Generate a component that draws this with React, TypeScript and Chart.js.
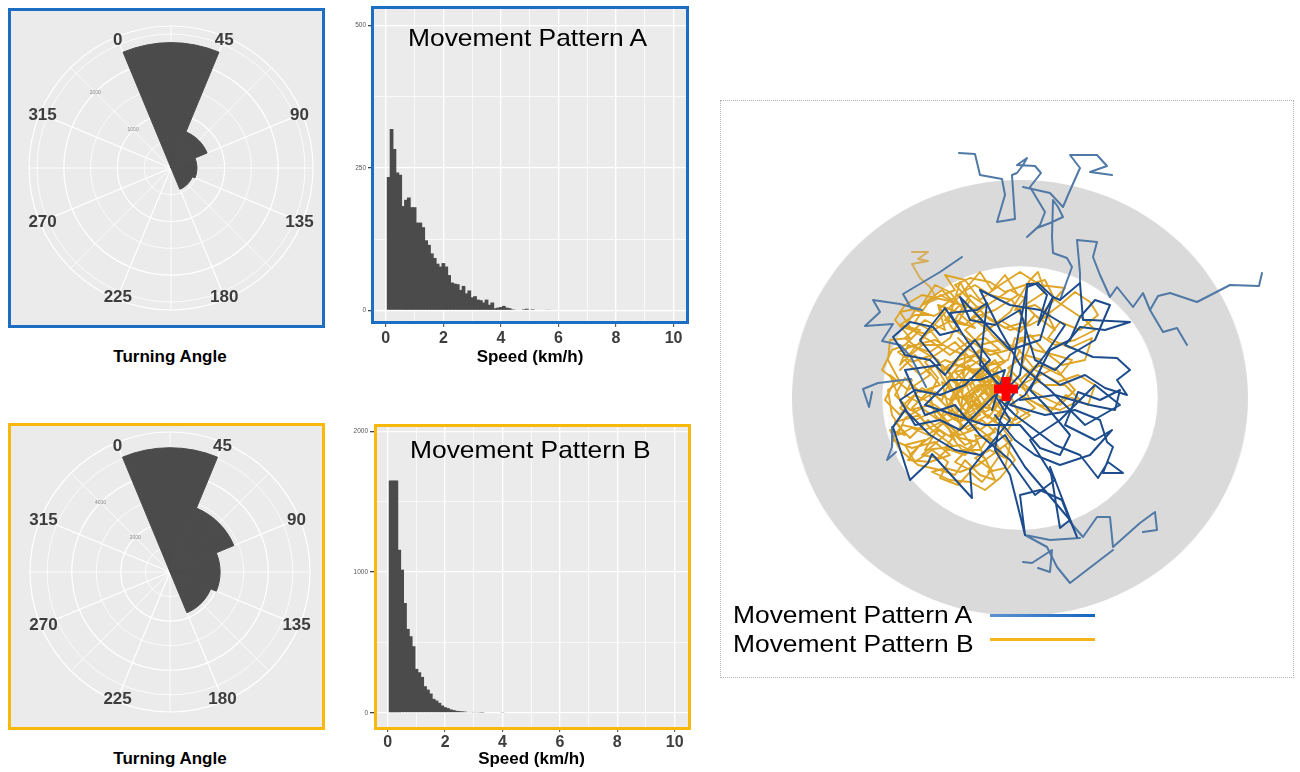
import React, { useEffect, useRef } from 'react';
import { Chart, registerables } from 'chart.js';

Chart.register(...registerables);

const FONT = '"Liberation Sans", Arial, Helvetica, sans-serif';
Chart.defaults.font.family = FONT;

const BLUE = '#1b6ec2';
const YELLOW = '#f8b90c';
const PANEL = '#ebebeb';
const BAR = '#4b4b4b';

// ---------- turning angle rose (45° bins, starting at label "0") ----------
const angleLabels = ['0', '45', '90', '135', '180', '225', '270', '315'];
const turningCountsA = [2340, 730, 485, 430, 0, 0, 0, 0];
const turningCountsB = [5060, 2815, 2040, 1795, 0, 0, 0, 0];

// ---------- speed histograms (0.1 km/h bins, bin centres) ----------
const speedBins = [
  0.1, 0.2, 0.3, 0.4, 0.5, 0.6, 0.7, 0.8, 0.9, 1.0,
  1.1, 1.2, 1.3, 1.4, 1.5, 1.6, 1.7, 1.8, 1.9, 2.0,
  2.1, 2.2, 2.3, 2.4, 2.5, 2.6, 2.7, 2.8, 2.9, 3.0,
  3.1, 3.2, 3.3, 3.4, 3.5, 3.6, 3.7, 3.8, 3.9, 4.0,
  4.1, 4.2, 4.3, 4.4, 4.5, 4.6, 4.7, 4.8, 4.9, 5.0,
  5.1, 5.2, 5.3, 5.4, 5.5, 5.6, 5.7,
];
const speedCountsA = [
  234, 318, 283, 242, 238, 183, 194, 198, 181, 181,
  154, 154, 146, 123, 115, 100, 92, 82, 77, 83,
  77, 62, 49, 47, 46, 36, 43, 30, 35, 23,
  25, 19, 18, 14, 19, 10, 14, 4, 5, 6,
  8, 5, 4, 2, 1, 0, 0, 2, 3, 0,
  2, 0, 0, 0, 0, 1, 1,
];
const speedCountsB = [
  1650, 1650, 1650, 1158, 1017, 780, 596, 544, 473, 312,
  288, 255, 189, 165, 137, 99, 87, 71, 52, 40,
  33, 24, 19, 14, 12, 10, 8, 5, 4, 6,
  4, 3, 2, 0, 0, 0, 0, 0, 0, 3,
  0, 0, 0, 0, 0, 0, 0, 0, 0, 0,
  0, 0, 0, 0, 0, 0, 0,
];

// ---------- trajectories (x east, y north; flat x,y lists) ----------
const basePoint = [6, 11];
const ringZone = [1];

const lightA1 = [60,100, 72,133, 67,142, 53,147, 52,163, 53,200, 58,193, 63,183, 50,177, 37,172, 27,163, 40,175, 45,188, 30,213, 41,227, 35,234, 17,235, 27,242, 23,235, 17,227, 12,225, 15,181, -3,178, 5,205, 2,221, -20,225, -25,246, -41,247];
const lightA2 = [23,213, 50,207, 63,193, 68,205, 80,232, 70,245, 97,245, 107,234, 90,228, 112,225];
const lightA3 = [80,117, 80,127, 77,160, 97,158, 93,143, 100,125, 110,103, 117,113, 133,93, 143,107, 150,90, 163,68, 177,72, 187,55];
const lightA4 = [150,90, 158,104, 170,107, 197,98, 230,115, 259,114, 262,127];
const lightA5 = [-38,143, -60,128, -97,106, -89,92, -78,90, -100,96, -127,100, -120,88, -135,74, -107,76, -118,59, -100,55, -89,43, -74,13];
const lightA6 = [-89,21, -122,17, -137,11, -131,-7, -128,8];
const lightA7 = [-95,-10, -107,-27, -108,-47, -113,-60, -104,-52];
const lightA8 = [62,-100, 70,-122, 83,-137, 97,-117, 110,-117, 113,-147, 140,-123, 155,-112, 157,-130, 143,-132];
const lightA9 = [113,-150, 83,-173, 70,-183, 57,-167, 47,-147, 25,-135, 50,-140, 80,-138];
const lightA10 = [23,-162, 32,-163, 52,-150, 50,-172, 38,-168];

const darkA1 = [6,10, 20,25, 25,60, 27,116, 36,116, 47,105, 38,75, 53,103, 60,100, 80,117, 83,80, 90,80, 130,78, 105,70, 80,73, 65,55, 93,43, 117,42, 130,30, 117,20, 127,5, 105,12, 85,25, 60,15, 40,28, 25,5, 10,-5, 45,-15, 75,-10, 100,-20, 107,-42, 113,-47, 103,-73, 123,-73, 108,-62, 98,-78, 80,-55, 55,-45, 35,-30, 15,-15, 0,0];
const darkA2 = [0,15, -20,35, -13,97, -23,90, -50,87, -40,70, -60,65, -67,73, -90,78, -107,63, -95,45, -70,40, -55,25, -40,45, -25,60, -10,40, -35,15, -60,5, -85,10, -100,0, -85,-25, -60,-20, -40,-30, -20,-10, -5,5, 10,-20, -10,-45, -30,-70, -28,-98, -68,-54, -72,-63, -90,-80, -107,-27, -95,-10, -70,-35, -45,-50, -20,-55, 5,-35, 25,-67, 70,-120, 60,-128, 50,-67, 77,-137, 62,-100, 40,-90, 20,-95, 25,-135, 10,-75, -5,-50, 0,-20, 15,10];
const darkA3 = [10,20, 27,113, 38,117, 53,103, 40,60, 10,50, -40,103, -30,80, -5,75, 20,90, 35,40, 55,30, 70,45, 95,60, 110,95, 95,100, 80,83, 70,60, 50,50, 30,10, 45,-5, 70,-35, 60,-55, 40,-48, 20,-25, -15,-25, -45,-15, -75,-5, -50,20, -20,20, 5,30, -8,-10];
const darkA4 = [20,0, 55,5, 90,-5, 115,-10, 120,10, 100,0, 78,8, 65,-25, 95,-40, 112,-30, 90,-55, 60,-65, 35,-55, 15,-40, -5,-15];
const darkA5 = [5,5, -30,55, -55,92, -80,60, -60,35, -95,30, -75,-15, -45,-5, -20,-35, 10,-60, 35,-95, 55,-80, 30,-40, 60,-20, 95,15, 120,-5, 85,-25, 50,10, 20,35, 0,70, -20,110, 10,95, 40,90, 65,75, 45,45, 25,20, 5,-5];

const pathB0 = [-88,148, -72,148, -82,141, -72,139, -88,136, -80,122, -70,113, -63,101, -78,95];
const pathB1 = [
  -78,95, -58,110, -45,96, -66,84, -85,90, -95,72, -74,66, -52,78, -40,118, -30,100, -50,62, -70,48, -92,55, -100,35,
  -20,128, -8,110, 5,125, 18,105, -5,90, -28,82, -12,70, 10,88, 30,120, 38,128, 45,108, 25,95, 40,80, 60,95, 75,108, 90,98, 98,85, 80,70, 60,78, 48,62, 70,52, 92,62, 85,40, 62,35, 45,48, 30,65, 15,55,
  35,30, 58,18, 78,25, 95,15, 88,-5, 66,5, 50,-12, 30,0, 20,20, 42,40, 25,45, 8,32, 28,12, 45,2, 60,-5, 75,10, 55,32,
  10,10, -5,25, -20,5, -8,-10, 5,5, -15,30, -30,15, -18,-5, -35,-15, -25,10, -10,20, 0,35, -20,40, -38,28, -28,0, -12,-18, 2,0, -22,22, -40,10, -30,-8, -15,12, -5,-5, -32,35, -45,20, -40,-5, -25,-20, -8,5, -18,25,
  -55,40, -72,30, -60,15, -80,8, -95,22, -105,5, -90,-10, -70,-5, -55,-20, -75,-30, -98,-25, -108,-40, -88,-48, -65,-42, -50,-55, -70,-62, -92,-60, -80,-45, -60,-30, -45,-40, -62,-10, -85,-20, -100,-8, -78,12, -58,0, -48,25, -68,45, -88,38, -102,48, -85,55, -65,60, -48,50, -35,45,
  -40,-30, -28,-45, -45,-62, -30,-70, -15,-60, -25,-35, -10,-40, 0,-55, -12,-72, 5,-68, 10,-45, -5,-28, -20,-50, -38,-50, -50,-35, -30,-25,
  -15,0, 5,20, 20,50, 0,60, -20,55, -35,70, -15,85, 5,72, 25,78, 12,100, -10,105, -25,115, -42,105, -60,92, -48,72, -30,60, -10,45, 8,50, -8,65, -28,92, -55,100, -78,105, -95,95, -105,80, -90,62, -110,60, -112,40, -100,18, -112,10, -108,-15, -95,-35, -110,-30, -100,-50, -82,-65, -60,-70, -45,-75, -35,-60, -20,-75, -5,-80, -15,-58, -40,-45, -58,-48, -75,-50, -60,-25, -40,-15, -20,-30, 0,-15, 15,-25, 30,-15, 12,-5, -10,10, -25,30, -45,35, -60,28, -38,45, -20,65, 0,80, 20,68, 35,85, 55,70, 45,90, 65,112, 40,115, 20,128, 0,115, -20,100, -35,120, -55,125, -45,110, -70,100, -85,78, -70,70, -58,55, -78,55, -95,40, -80,25, -65,35, -50,10, -35,0, -20,15, -5,15, -15,40, -30,50, -42,62,
];
const pathB2 = [-30,20, -20,32, -10,18, -2,28, -15,8, -28,-2, -12,-8, 0,12, -22,15, -35,5, -25,-12, -40,-22, -50,-5, -38,12, -52,28, -42,40, -25,45, -12,32, -30,30, -45,10, -58,18, -50,-15, -32,-30, -18,-20, -5,-32, -20,-38, -35,-45, -52,-28, -65,-15, -70,5, -62,22, -75,38, -60,48, -45,58, -30,42, -18,52, -5,48, 5,38, -8,30, 2,20, 12,25, 5,-5, -8,-20, 8,-30, 18,-12, 10,5];
const pathB3 = [-100,30, -85,45, -70,25, -92,10, -110,25, -98,-5, -80,-15, -105,-22, -90,-38, -72,-20, -55,-35, -78,-55, -62,-58, -48,-45, -68,-30, -88,-8, -70,10, -52,-8, -38,-25, -55,-48, -35,-55, -22,-42, -40,-38, -58,-15, -45,5, -62,40, -80,50, -95,62, -75,80, -55,70, -62,95, -42,88, -25,72, -45,80, -30,105, -15,95, -35,88, -50,108, -65,115, -80,92, -100,88, -88,70, -68,58, -50,45, -32,58, -15,62, 0,50, -20,48, -38,35, -25,25, -10,35, 8,40, 15,62, 30,55, 22,35, 40,20, 25,10, 10,22, -5,8, -20,-10, 0,-25, 12,-40, -8,-55, -22,-65, -40,-72, -55,-68, -68,-72, -50,-80, -30,-82, -15,-90, 0,-78, 15,-60, 5,-45];
const pathB4 = [-60,105, -40,95, -55,80, -35,75, -20,90, -5,100, 10,110, 25,102, 15,90, 35,95, 50,85, 30,75, 10,70, -10,80, -25,95, -45,115, -30,122, -10,118, 5,108, 25,115, 45,120, 55,100, 70,90, 85,80, 95,70, 75,60, 55,55, 40,65, 20,62, 35,50, 55,45, 72,40, 60,25, 40,35, 25,25, 45,15, 65,15, 80,0, 60,-10, 40,-5, 20,5, 35,-8, 15,-20, -5,-10, -25,-5, -45,-20, -65,-5, -85,5, -100,-15, -115,0, -105,20, -118,30, -108,50, -95,55, -80,70, -100,75, -85,85, -70,85];
const pathB5 = [-90,-55, -75,-40, -95,-45, -85,-62, -68,-50, -52,-62, -60,-78, -42,-85, -30,-72, -18,-82, -8,-70, -25,-58, -10,-50, 5,-58, -5,-42, -22,-28, -40,-35, -55,-22, -72,-35, -88,-28, -102,-35, -95,-18, -78,-8, -62,-20, -48,-10, -35,-20, -20,-15, -30,5, -50,0, -65,8, -82,-2, -95,5, -88,20];
const pathB6 = [-40,10, -30,22, -22,8, -12,20, -5,5, -18,-5, -28,5, -38,-8, -45,5, -35,18, -45,28, -30,32, -20,22, -8,30, 0,18, -10,8, -2,-5, -15,-12, -25,-2, -35,-15, -25,-22, -12,-15, -5,-22, 2,-10, -8,0, -20,12, -32,0, -42,-12, -50,0, -42,15, -52,22, -40,35, -28,40, -15,32, -5,40, 3,28];

// ---------- helpers ----------
const toPts = (a: number[]) => {
  const out: { x: number; y: number }[] = [];
  for (let i = 0; i + 1 < a.length; i += 2) out.push({ x: a[i], y: a[i + 1] });
  return out;
};
const isMult = (v: number, m: number) => Math.abs(v / m - Math.round(v / m)) < 1e-6;

const roseLabels16 = Array.from({ length: 16 }, (_, k) => (k % 2 === 1 ? angleLabels[(k - 1) / 2] : ''));
const expandBins = (bins: number[]) => Array.from({ length: 16 }, (_, k) => bins[(Math.floor((k - 1) / 2) + 8) % 8]);

function roseTextPlugin(major: number) {
  return {
    id: 'roseText',
    afterDraw(chart: any) {
      const s = chart.scales.r;
      const ctx = chart.ctx;
      ctx.save();
      ctx.font = `5px ${FONT}`;
      ctx.fillStyle = '#8a8a8a';
      ctx.textAlign = 'center';
      ctx.textBaseline = 'middle';
      s.ticks.forEach((t: any) => {
        if (t.value > 0 && t.value < s.max && isMult(t.value, major)) {
          const p = s.getPointPosition(0, s.getDistanceFromCenterForValue(t.value));
          ctx.fillText(String(t.value), p.x, p.y);
        }
      });
      ctx.font = `bold 17px ${FONT}`;
      ctx.fillStyle = '#3d3d3d';
      (chart.data.labels as string[]).forEach((lab, i) => {
        if (!lab) return;
        const p = s.getPointPosition(i, s.drawingArea - 3);
        ctx.fillText(lab, p.x, p.y + 1);
      });
      ctx.restore();
    },
  };
}

function makeRose(canvas: HTMLCanvasElement, bins: number[], rMax: number, step: number, circle: number, major: number) {
  const seg = expandBins(bins);
  return new Chart(canvas, {
    type: 'polarArea',
    data: {
      labels: roseLabels16,
      datasets: [{ data: seg, backgroundColor: BAR, borderColor: BAR, borderWidth: seg.map((v) => (v > 0 ? 1 : 0)) as any }],
    },
    options: {
      responsive: false,
      animation: false,
      events: [],
      layout: { padding: 24 },
      plugins: { legend: { display: false }, tooltip: { enabled: false } },
      scales: {
        r: {
          min: 0,
          max: rMax,
          startAngle: -45,
          ticks: { stepSize: step, display: false },
          grid: {
            circular: true,
            color: (c: any) => (c.tick && (isMult(c.tick.value, circle) || c.tick.value === rMax) ? '#ffffff' : 'rgba(255,255,255,0)'),
            lineWidth: (c: any) => (c.tick && (isMult(c.tick.value, major) || c.tick.value === rMax) ? 1.2 : 0.8),
          },
          angleLines: { display: true, color: '#ffffff', lineWidth: (c: any) => (c.index % 2 === 1 ? 1.2 : 0.8) },
          pointLabels: { display: false },
        } as any,
      },
    },
    plugins: [roseTextPlugin(major)],
  });
}

function makeHist(canvas: HTMLCanvasElement, counts: number[], o: any) {
  const tv = (c: any) => (c.tick ? c.tick.value : 1);
  return new Chart(canvas, {
    type: 'bar',
    data: {
      datasets: [{
        data: speedBins.map((x, i) => ({ x, y: counts[i] })),
        backgroundColor: BAR,
        borderWidth: 0,
        barPercentage: 1.3,
        categoryPercentage: 1,
      }],
    },
    options: {
      responsive: false,
      animation: false,
      events: [],
      layout: { padding: { top: 7, left: 0, right: 0, bottom: 0 } },
      plugins: { legend: { display: false }, tooltip: { enabled: false } },
      scales: {
        x: {
          type: 'linear',
          min: -0.48,
          max: 10.5,
          offset: false,
          grid: {
            offset: false,
            color: '#ffffff',
            lineWidth: (c: any) => (isMult(tv(c), 2) ? 1.3 : 0.7),
            drawTicks: true,
            tickLength: 4,
            tickWidth: 1,
            tickColor: (c: any) => (isMult(tv(c), 2) ? '#444444' : 'rgba(0,0,0,0)'),
          },
          border: { display: false },
          ticks: {
            stepSize: 1,
            autoSkip: false,
            maxRotation: 0,
            includeBounds: false,
            padding: o.xPad,
            color: '#3d3d3d',
            font: { size: 16, weight: 'bold' },
            callback: (v: any) => (isMult(v, 2) ? String(Math.round(v)) : ''),
          },
          title: { display: true, text: 'Speed (km/h)', color: '#000000', font: { size: 17, weight: 'bold' }, padding: { top: 0, bottom: 2 } },
          afterFit: (s: any) => { s.height = o.xH; },
        } as any,
        y: {
          type: 'linear',
          min: o.yMin,
          max: o.yMax,
          grid: {
            color: (c: any) => (isMult(tv(c), o.minor) ? '#ffffff' : 'rgba(255,255,255,0)'),
            lineWidth: (c: any) => (isMult(tv(c), o.major) ? 1.3 : 0.7),
            drawTicks: true,
            tickLength: 4,
            tickColor: (c: any) => (isMult(tv(c), o.major) ? '#444444' : 'rgba(0,0,0,0)'),
          },
          border: { display: false },
          ticks: {
            display: true,
            stepSize: o.step,
            includeBounds: false,
            autoSkip: false,
            padding: 2,
            color: '#555555',
            font: { size: 6.5 },
            callback: (v: any) => (isMult(v, o.major) ? String(Math.round(v)) : ''),
          },
          afterFit: (s: any) => { s.width = o.yW; },
        } as any,
      },
    },
  });
}

function lineDs(pts: number[], color: string, width: number) {
  return {
    data: toPts(pts),
    showLine: true,
    borderColor: color,
    borderWidth: width,
    pointRadius: 0,
    fill: false,
    tension: 0,
    borderJoinStyle: 'round',
    borderCapStyle: 'round',
  };
}

function makeTracks(canvas: HTMLCanvasElement) {
  const dark = '#1d4c8d';
  const light = '#5079a6';
  const orange = '#dfa527';
  const datasets: any[] = [
    {
      data: toPts(basePoint),
      showLine: false,
      pointStyle: 'cross',
      pointRadius: 12,
      pointBorderWidth: 9,
      pointBorderColor: '#ff0000',
      pointBackgroundColor: '#ff0000',
    },
    lineDs(darkA1, dark, 2),
    lineDs(darkA2, dark, 2),
    lineDs(darkA3, dark, 2),
    lineDs(darkA4, dark, 2),
    lineDs(darkA5, dark, 2),
    lineDs(lightA1, light, 2),
    lineDs(lightA2, light, 2),
    lineDs(lightA3, light, 2),
    lineDs(lightA4, light, 2),
    lineDs(lightA5, light, 2),
    lineDs(lightA6, light, 2),
    lineDs(lightA7, light, 2),
    lineDs(lightA8, light, 2),
    lineDs(lightA9, light, 2),
    lineDs(lightA10, light, 2),
    lineDs(pathB6, orange, 1.9),
    lineDs(pathB5, orange, 1.9),
    lineDs(pathB4, orange, 1.9),
    lineDs(pathB3, orange, 1.9),
    lineDs(pathB2, orange, 1.9),
    lineDs(pathB1, orange, 1.9),
    lineDs(pathB0, '#d5ad5c', 1.9),
  ];
  return new Chart(canvas, {
    type: 'scatter',
    data: { datasets },
    options: {
      responsive: false,
      animation: false,
      events: [],
      layout: { padding: 0, autoPadding: false },
      plugins: { legend: { display: false }, tooltip: { enabled: false } },
      scales: {
        x: { type: 'linear', min: -279, max: 292, display: false },
        y: { type: 'linear', min: -276, max: 299, display: false },
      },
    },
  });
}

function makeRing(canvas: HTMLCanvasElement) {
  return new Chart(canvas, {
    type: 'doughnut',
    data: { datasets: [{ data: ringZone, backgroundColor: '#dadada', borderWidth: 0 }] },
    options: {
      responsive: false,
      animation: false,
      events: [],
      cutout: '60.4%',
      layout: { padding: 0 },
      plugins: { legend: { display: false }, tooltip: { enabled: false } },
    },
  });
}

const abs = (left: number, top: number, width: number, height: number, extra: any = {}) => ({
  position: 'absolute' as const, left, top, width, height, boxSizing: 'border-box' as const, ...extra,
});

function Txt(p: { left: number; top: number; width?: number; size: number; bold?: boolean; align?: any; sx?: number; children: any }) {
  return (
    <div
      style={{
        position: 'absolute', left: p.left, top: p.top, width: p.width, fontSize: p.size, lineHeight: `${p.size}px`,
        fontWeight: p.bold ? 700 : 400, textAlign: p.align || 'left', color: '#000', whiteSpace: 'nowrap',
        fontFamily: FONT, transform: p.sx ? `scaleX(${p.sx})` : undefined, transformOrigin: 'left center',
      }}
    >
      {p.children}
    </div>
  );
}

export default function App() {
  const roseA = useRef<HTMLCanvasElement>(null);
  const roseB = useRef<HTMLCanvasElement>(null);
  const histA = useRef<HTMLCanvasElement>(null);
  const histB = useRef<HTMLCanvasElement>(null);
  const ring = useRef<HTMLCanvasElement>(null);
  const tracks = useRef<HTMLCanvasElement>(null);

  useEffect(() => {
    const charts = [
      makeRose(roseA.current!, turningCountsA, 2650, 250, 500, 1000),
      makeRose(roseB.current!, turningCountsB, 5700, 200, 1000, 2000),
      makeHist(histA.current!, speedCountsA, { yMin: -22, yMax: 532, step: 125, minor: 125, major: 250, yW: 32, xH: 47, xPad: 2 }),
      makeHist(histB.current!, speedCountsB, { yMin: -108, yMax: 2045, step: 250, minor: 500, major: 1000, yW: 34, xH: 44, xPad: 1 }),
      makeRing(ring.current!),
      makeTracks(tracks.current!),
    ];
    return () => charts.forEach((c) => c.destroy());
  }, []);

  return (
    <div style={{ position: 'absolute', left: 0, top: 0, width: 1300, height: 772, background: '#fff', overflow: 'hidden', fontFamily: FONT }}>
      {/* Rose A */}
      <div style={abs(8, 8, 317, 320, { background: PANEL })} />
      <canvas ref={roseA} width={332} height={332} style={abs(5, 2, 332, 332)} />
      <div style={abs(8, 8, 317, 320, { border: `3px solid ${BLUE}` })} />
      <Txt left={0} top={348} width={340} size={17} bold align="center">Turning Angle</Txt>

      {/* Hist A */}
      <div style={abs(371, 6, 318, 318, { background: PANEL })} />
      <canvas ref={histA} width={348} height={370} style={abs(340, 0, 348, 370)} />
      <div style={abs(371, 6, 318, 318, { border: `3px solid ${BLUE}` })} />
      <Txt left={408} top={26.3} size={24} sx={1.1}>Movement Pattern A</Txt>

      {/* Rose B */}
      <div style={abs(8, 423, 317, 307, { background: PANEL })} />
      <canvas ref={roseB} width={328} height={328} style={abs(6, 408, 328, 328)} />
      <div style={abs(8, 423, 317, 307, { border: `3px solid ${YELLOW}` })} />
      <Txt left={0} top={750} width={340} size={17} bold align="center">Turning Angle</Txt>

      {/* Hist B */}
      <div style={abs(374, 424, 317, 306, { background: PANEL })} />
      <canvas ref={histB} width={349} height={354} style={abs(340, 418, 349, 354)} />
      <div style={abs(374, 424, 317, 306, { border: `3px solid ${YELLOW}` })} />
      <Txt left={410} top={437.8} size={24} sx={1.1}>Movement Pattern B</Txt>

      {/* Trajectories */}
      <div style={abs(720, 100, 574, 578, { border: '1px dotted #b4b4b4' })} />
      <canvas ref={ring} width={436} height={436} style={abs(792, 180, 456, 436)} />
      <canvas ref={tracks} width={571} height={575} style={abs(721, 101, 571, 575)} />
      <Txt left={733} top={603.3} size={24} sx={1.1}>Movement Pattern A</Txt>
      <div style={abs(990, 614, 105, 3, { background: 'linear-gradient(90deg, #5d92d0, #1565c0)' })} />
      <Txt left={733} top={632.3} size={24} sx={1.1}>Movement Pattern B</Txt>
      <div style={abs(990, 638, 105, 3, { background: '#f5b41c' })} />
    </div>
  );
}
